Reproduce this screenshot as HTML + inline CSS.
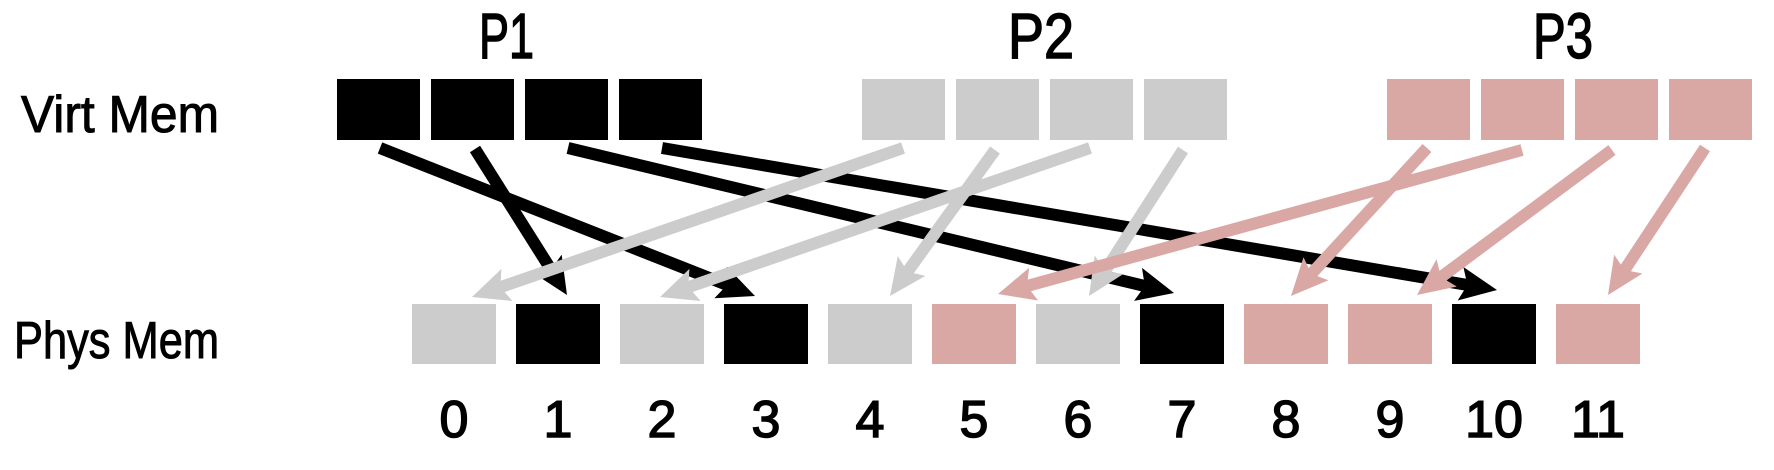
<!DOCTYPE html>
<html><head><meta charset="utf-8"><style>
html,body{margin:0;padding:0;background:#fff;}
svg{display:block;}
text{font-family:"Liberation Sans",sans-serif;fill:#000;}
</style></head><body>
<svg id="s" width="1774" height="470" viewBox="0 0 1774 470" xmlns="http://www.w3.org/2000/svg">
<defs>
<marker id="hk" markerUnits="userSpaceOnUse" markerWidth="44" markerHeight="44" refX="8" refY="17" orient="auto"><path d="M0,0 L37,17 L0,34 L7,17 z" fill="#000"/></marker>
<marker id="hg" markerUnits="userSpaceOnUse" markerWidth="44" markerHeight="44" refX="8" refY="17" orient="auto"><path d="M0,0 L37,17 L0,34 L7,17 z" fill="#cccccc"/></marker>
<marker id="hp" markerUnits="userSpaceOnUse" markerWidth="44" markerHeight="44" refX="8" refY="17" orient="auto"><path d="M0,0 L37,17 L0,34 L7,17 z" fill="#d9a8a5"/></marker>
</defs>
<text x="21" y="132" font-size="52" textLength="198" lengthAdjust="spacingAndGlyphs" stroke="#000" stroke-width="1">Virt Mem</text>
<text x="14" y="358" font-size="52" textLength="205" lengthAdjust="spacingAndGlyphs" stroke="#000" stroke-width="1">Phys Mem</text>
<text x="479" y="58" font-size="64" textLength="55" lengthAdjust="spacingAndGlyphs" stroke="#000" stroke-width="1.5">P1</text>
<text x="1008" y="58" font-size="64" textLength="66" lengthAdjust="spacingAndGlyphs" stroke="#000" stroke-width="1.5">P2</text>
<text x="1533" y="58" font-size="64" textLength="60" lengthAdjust="spacingAndGlyphs" stroke="#000" stroke-width="1.5">P3</text>
<g id="boxes"></g>
<g id="nums"></g>
<g id="arrows"></g>
</svg>
<script>
var NS="http://www.w3.org/2000/svg";
function el(t,a,p){var e=document.createElementNS(NS,t);for(var k in a)e.setAttribute(k,a[k]);p.appendChild(e);return e;}
var B=document.getElementById('boxes'),N=document.getElementById('nums'),A=document.getElementById('arrows');
var K='#000',G='#cccccc',P='#d9a8a5';
var starts=[337,862,1387],cols=[K,G,P];
for(var g=0;g<3;g++)for(var i=0;i<4;i++)el('rect',{x:starts[g]+i*94,y:79,width:83,height:61,fill:cols[g]},B);
var pc=[G,K,G,K,G,P,G,K,P,P,K,P];
for(var i=0;i<12;i++){var x=412+i*104;el('rect',{x:x,y:304,width:84,height:60,fill:pc[i]},B);
var t=el('text',{x:x+42,y:437,'font-size':52,'text-anchor':'middle',stroke:'#000','stroke-width':1.5},N);t.textContent=String(i);}
var arr=[
[475,149,567,295,'hk',K],[380,148,755,296,'hk',K],[568,148,1174,293,'hk',K],[662,148,1497,290,'hk',K],
[903,148,472,297,'hg',G],[995,150,890,296,'hg',G],[1090,148,660,297,'hg',G],[1183,150,1089,296,'hg',G],
[1427,148,1291,296,'hp',P],[1522,150,998,294,'hp',P],[1612,150,1417,295,'hp',P],[1705,148,1608,295,'hp',P]];
arr.forEach(function(a){var dx=a[2]-a[0],dy=a[3]-a[1],L=Math.sqrt(dx*dx+dy*dy),s=(L-29)/L;
el('line',{x1:a[0],y1:a[1],x2:a[0]+dx*s,y2:a[1]+dy*s,stroke:a[5],'stroke-width':12,'marker-end':'url(#'+a[4]+')'},A);});
</script>
</body></html>
